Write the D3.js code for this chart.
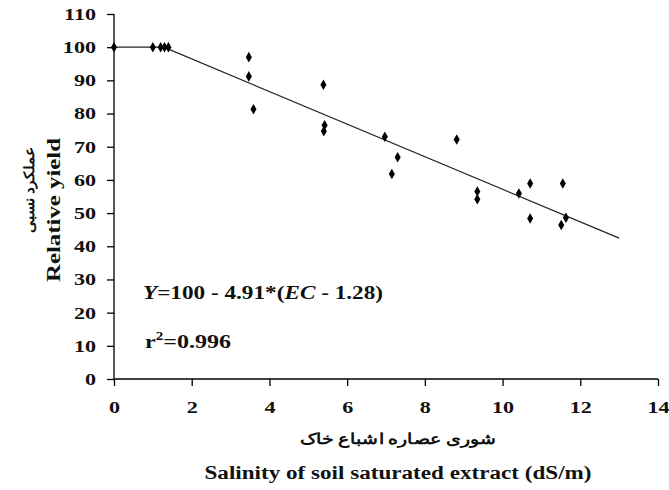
<!DOCTYPE html>
<html><head><meta charset="utf-8">
<script src="https://cdn.jsdelivr.net/npm/d3@7"></script>
<style>body{margin:0;background:#fff}svg text{font-family:"Liberation Serif","Times New Roman",serif;font-weight:bold}</style>
</head><body>
<svg id="c" width="669" height="490"></svg>
<script>
const ecValues = [0, 1.0, 1.2, 1.3, 1.4, 3.47, 3.47, 3.59, 5.39, 5.42, 5.4, 6.97, 7.3, 7.15, 8.82, 9.35, 9.35, 10.42, 10.71, 10.71, 11.55, 11.63, 11.51];
const yieldValues = [100, 100, 100, 100, 100, 97.0, 91.2, 81.3, 88.7, 76.5, 74.7, 73.0, 66.8, 61.8, 72.2, 56.5, 54.2, 55.9, 58.9, 48.4, 58.9, 48.6, 46.4];
const fitX = [0, 1.28, 13];
const fitY = fitX.map(x => x <= 1.28 ? 100 : 100 - 4.91 * (x - 1.28));
const xTicks = [0, 2, 4, 6, 8, 10, 12, 14];
const yTicks = [0, 10, 20, 30, 40, 50, 60, 70, 80, 90, 100, 110];

const svg = d3.select("#c");
const x = d3.scaleLinear().domain([0, 14]).range([114, 658]);
const y = d3.scaleLinear().domain([0, 110]).range([379, 14]);

function stretch(sel, f) {
  sel.each(function () {
    const len = this.getComputedTextLength();
    d3.select(this).attr("textLength", len * f).attr("lengthAdjust", "spacingAndGlyphs");
  });
}
function fitWidth(sel, w) {
  sel.attr("textLength", w).attr("lengthAdjust", "spacingAndGlyphs");
}

const xa = svg.append("g").attr("transform", "translate(0,379)")
  .call(d3.axisBottom(x).tickValues(xTicks).tickSize(7).tickPadding(15).tickFormat(d3.format("d")));
const ya = svg.append("g").attr("transform", "translate(114,0)")
  .call(d3.axisLeft(y).tickValues(yTicks).tickSize(7).tickPadding(11).tickFormat(d3.format("d")));
[xa, ya].forEach(a => {
  a.selectAll("path,line").attr("stroke", "#000").attr("stroke-width", 1.3);
  a.selectAll("text").attr("font-size", 17).attr("fill", "#111")
    .attr("font-family", "Liberation Serif, serif").attr("font-weight", "bold");
  stretch(a.selectAll("text"), 1.3);
});
xa.select(".domain").attr("d", "M114,0H658");
xa.selectAll(".tick line").attr("y1", 0).attr("y2", 7);
ya.select(".domain").attr("d", "M0,14V379");

const line = d3.line().x((d, i) => x(fitX[i])).y((d, i) => y(fitY[i]));
svg.append("path").datum(fitX).attr("d", line).attr("fill", "none").attr("stroke", "#222").attr("stroke-width", 1.2);

svg.append("g").selectAll("path").data(ecValues).join("path")
  .attr("transform", (d, i) => `translate(${x(d)},${y(yieldValues[i])})`)
  .attr("d", d3.symbol().type(d3.symbolDiamond).size(32)).attr("fill", "#000");

const eq = svg.append("text").attr("x", 143).attr("y", 299).attr("font-size", 19).attr("fill", "#111");
eq.append("tspan").attr("font-style", "italic").text("Y");
eq.append("tspan").text("=100 - 4.91*(");
eq.append("tspan").attr("font-style", "italic").text("EC");
eq.append("tspan").text(" - 1.28)");
fitWidth(eq, 240);

const r2 = svg.append("text").attr("x", 145).attr("y", 348).attr("font-size", 19).attr("fill", "#111");
r2.append("tspan").text("r");
r2.append("tspan").attr("font-size", 12).attr("dy", -8).text("2");
r2.append("tspan").attr("dy", 8).text("=0.996");
fitWidth(r2, 86);

const py = svg.append("text").attr("transform", "translate(34,190) rotate(-90)").attr("text-anchor", "middle")
  .attr("font-size", 14).attr("font-family", "DejaVu Sans").attr("font-weight", "normal").attr("fill", "#111")
  .attr("direction", "rtl").text("عملکرد نسبی");
fitWidth(py, 86);
const ey = svg.append("text").attr("transform", "translate(60,210) rotate(-90)").attr("text-anchor", "middle")
  .attr("font-size", 18).attr("fill", "#111").text("Relative yield");
fitWidth(ey, 144);

const px = svg.append("text").attr("x", 398).attr("y", 444).attr("text-anchor", "middle")
  .attr("font-size", 15).attr("font-family", "DejaVu Sans").attr("font-weight", "normal").attr("fill", "#111")
  .attr("direction", "rtl").text("شوری عصاره اشباع خاک");
fitWidth(px, 197);
const ex = svg.append("text").attr("x", 398).attr("y", 479).attr("text-anchor", "middle")
  .attr("font-size", 18).attr("fill", "#111").text("Salinity of soil saturated extract (dS/m)");
fitWidth(ex, 387);
</script>
</body></html>
